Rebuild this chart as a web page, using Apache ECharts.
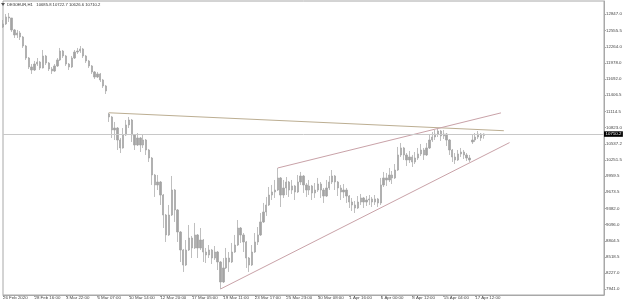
<!DOCTYPE html>
<html><head><meta charset="utf-8">
<script src="https://cdn.jsdelivr.net/npm/echarts@6/dist/echarts.min.js"></script>
<style>html,body{margin:0;padding:0;background:#fff}#c{width:625px;height:304px}</style>
</head><body><div id="c"></div>
<script>
// H1 bars: [open, close, low, high]
const bars = [
[12620,12674,12603,12745],[12674,12799,12656,12852],[12799,12781,12710,12870],[12781,12567,12531,12781],
[12567,12478,12424,12585],[12478,12513,12424,12567],[12513,12442,12388,12549],[12442,12281,12246,12460],
[12281,12067,12032,12299],[12067,11907,11871,12085],[11907,11853,11782,11960],[11853,11960,11835,12014],
[11960,11996,11925,12067],[11996,11889,11853,12014],[11889,12103,11880,12210],[12103,11978,11942,12121],
[11978,11871,11835,11996],[11871,11835,11782,11907],[11835,11925,11818,11960],[11925,12032,11907,12067],
[12032,12192,12014,12246],[12192,12103,12067,12210],[12103,11960,11925,12121],[11960,11907,11853,11978],
[11907,12067,11889,12103],[12067,12174,12049,12210],[12174,12192,12139,12246],[12192,12228,12157,12281],
[12228,12103,12067,12246],[12103,12014,11978,12121],[12014,11925,11889,12032],[11925,11818,11782,11942],
[11818,11728,11693,11835],[11728,11782,11711,11818],[11782,11675,11639,11800],[11675,11568,11532,11693],
[11568,11479,11425,11586],[11068,11015,10926,11090],[11015,10783,10640,11033],[10783,10818,10604,10926],
[10818,10604,10426,10836],[10604,10462,10372,10640],[10462,10694,10450,10818],[10694,10872,10676,10961],
[10872,10961,10818,11015],[10961,10694,10569,10979],[10694,10515,10426,10711],[10515,10640,10497,10729],
[10640,10515,10390,10658],[10515,10604,10462,10711],[10604,10426,10337,10622],[10426,10283,10212,10444],
[10283,9980,9802,10301],[9980,9802,9588,9998],[9802,9855,9712,9980],[9855,9623,9445,9873],
[9623,9266,9034,9641],[9266,8910,8785,9284],[8910,9266,8892,9445],[9266,9712,9249,9962],
[9712,9356,9142,9730],[9356,8963,8785,9373],[8963,8642,8428,8981],[8642,8374,8250,8660],
[8374,8642,8357,8820],[8642,8856,8624,9088],[8856,8678,8499,8892],[8678,8910,8660,9124],
[8910,8678,8499,8927],[8678,8820,8642,9034],[8820,8606,8428,8838],[8606,8553,8410,8678],
[8553,8642,8499,8731],[8642,8499,8392,8660],[8499,8606,8464,8713],[8606,8428,8285,8624],
[8428,8071,7946,8446],[8071,8321,8053,8499],[8321,8499,8303,8678],[8499,8428,8250,8606],
[8428,8606,8410,8767],[8606,8731,8589,8910],[8731,9034,8713,9177],[9034,8910,8767,9052],
[8910,8785,8606,8945],[8785,8499,8321,8803],[8499,8374,8250,8517],[8374,8606,8357,8731],
[8606,8785,8589,8945],[8785,8910,8731,9052],[8910,9142,8892,9302],[9142,9320,9124,9481],
[9320,9445,9249,9588],[9445,9623,9427,9766],[9623,9677,9534,9802],[9677,9712,9570,9891],
[9712,9927,9695,10105],[9927,9623,9409,9944],[9623,9748,9570,9891],[9748,9855,9623,9944],
[9855,9712,9588,9873],[9712,9784,9641,9891],[9784,9677,9534,9802],[9677,9855,9659,9980],
[9855,9962,9802,10034],[9962,9802,9659,9980],[9802,9712,9588,9837],[9712,9784,9623,9891],
[9784,9659,9534,9802],[9659,9712,9570,9837],[9712,9819,9677,9927],[9819,9712,9570,9855],
[9712,9605,9481,9748],[9605,9748,9588,9891],[9748,9855,9712,9962],[9855,9962,9819,10069],
[9962,9855,9712,9980],[9855,9748,9605,9873],[9748,9677,9534,9802],[9677,9712,9570,9819],
[9712,9605,9481,9748],[9605,9498,9391,9623],[9498,9445,9338,9570],[9445,9391,9302,9516],
[9391,9498,9374,9605],[9498,9570,9445,9641],[9570,9498,9391,9588],[9498,9534,9427,9605],
[9534,9552,9445,9623],[9552,9498,9409,9588],[9498,9552,9445,9623],[9552,9481,9409,9570],
[9481,9802,9445,9927],[9802,9927,9766,10034],[9927,9891,9784,10016],[9891,9980,9855,10105],
[9980,9927,9819,10051],[9927,10069,9909,10176],[10069,10337,10051,10480],[10337,10462,10301,10551],
[10462,10337,10248,10480],[10337,10248,10140,10372],[10248,10301,10194,10408],[10301,10212,10123,10337],
[10212,10283,10176,10390],[10283,10355,10248,10462],[10355,10426,10319,10533],[10426,10337,10248,10462],
[10337,10462,10319,10551],[10462,10604,10444,10694],[10604,10658,10569,10747],[10658,10711,10604,10783],
[10711,10765,10658,10801],[10765,10676,10587,10783],[10676,10711,10622,10783],[10711,10604,10497,10729],
[10604,10426,10337,10622],[10426,10301,10212,10444],[10301,10248,10176,10372],[10248,10355,10230,10426],
[10355,10390,10301,10462],[10390,10337,10265,10426],[10337,10283,10230,10372],[10283,10248,10212,10337],
[10569,10604,10533,10694],[10604,10658,10569,10729],[10658,10711,10622,10765],[10711,10640,10587,10729],
[10685.8,10710.2,10626.6,10722.7]
];
const slotCount = 211;           // bar slots shown (incl. right shift area)
const xTickLabels = ["26 Feb 2020","28 Feb 16:00","3 Mar 22:00","6 Mar 07:00","10 Mar 14:00","12 Mar 20:00",
  "17 Mar 05:00","19 Mar 11:00","23 Mar 17:00","25 Mar 23:00","30 Mar 08:00","1 Apr 16:00",
  "6 Apr 00:00","8 Apr 12:00","15 Apr 04:00","17 Apr 12:00"];
const xTickEvery = 11;
const yTickValues = [7941.0,8227.0,8518.5,8804.5,9096.0,9382.0,9673.5,9959.5,10251.5,10537.2,
  10823.0,11114.5,11406.5,11692.0,11978.0,12264.0,12555.5,12847.0];
const yMin = 7839, yMax = 13084;
const lastPrice = 10710.2;
const headerText = "DE30EUR,H1   10685.8 10722.7 10626.6 10710.2";
// trend lines: [barIndex, price]
const trendTan = [[37, 11090], [175, 10770]];
const trendUpper = [[96, 10105], [174, 11088]];
const trendLower = [[76, 7946], [177, 10558]];

const cats = Array.from({length: slotCount}, (_, i) => String(i));
const FONT = 'Liberation Sans';
const chart = echarts.init(document.getElementById('c'), null, {renderer: 'canvas'});
const tickShow = (i) => i % xTickEvery === 0 && i / xTickEvery < xTickLabels.length;
const seg = (p, color) => [{coord: p[0], lineStyle: {color: color, width: 1, type: 'solid'}}, {coord: p[1]}];
chart.setOption({
  animation: false,
  grid: {left: 0, right: 21, top: 1, bottom: 9, show: true, borderColor: '#a8a8a8', borderWidth: 1, backgroundColor: '#fff'},
  xAxis: {
    type: 'category', data: cats, boundaryGap: false,
    axisLine: {show: true, lineStyle: {color: '#a8a8a8', width: 1}},
    axisTick: {show: true, interval: tickShow, length: 2, lineStyle: {color: '#a8a8a8'}},
    axisLabel: {interval: tickShow, align: 'left', margin: 1, fontSize: 4.4, fontFamily: FONT, color: '#444',
      formatter: (v, i) => xTickLabels[Math.round(i / xTickEvery)] || ''},
    splitLine: {show: false}
  },
  yAxis: {
    type: 'value', position: 'right', min: yMin, max: yMax, scale: true,
    axisLine: {show: true, lineStyle: {color: '#a8a8a8', width: 1}},
    axisTick: {show: true, customValues: yTickValues, length: 2, lineStyle: {color: '#a8a8a8'}},
    axisLabel: {customValues: yTickValues, margin: 2, fontSize: 4.4, fontFamily: FONT, color: '#444',
      formatter: v => v.toFixed(1)},
    splitLine: {show: false}
  },
  graphic: [
    {type: 'polygon', shape: {points: [[1, 3], [5, 3], [3, 6]]}, style: {fill: '#555'}},
    {type: 'text', left: 7, top: 2.5, style: {text: headerText, fontSize: 4.2, fontFamily: FONT, fill: '#333'}}
  ],
  series: [{
    type: 'candlestick', data: bars, barWidth: 1.8,
    itemStyle: {color: '#a4a4a4', color0: '#a4a4a4', borderColor: '#a4a4a4', borderColor0: '#a4a4a4', borderWidth: 0.7},
    markLine: {
      silent: true, symbol: ['none', 'none'], animation: false,
      label: {show: false},
      data: [
        seg(trendTan, '#bcae92'),
        seg(trendUpper, '#c9a2a8'),
        seg(trendLower, '#c9a2a8'),
        {yAxis: lastPrice, lineStyle: {color: '#c8c8c8', width: 1, type: 'solid'},
         label: {show: true, position: 'end', distance: 0, formatter: lastPrice.toFixed(1), color: '#fff',
           backgroundColor: '#000', padding: [1, 1.5, 0.5, 1.5], fontSize: 4.4, fontFamily: FONT}}
      ]
    }
  }]
});
</script></body></html>
